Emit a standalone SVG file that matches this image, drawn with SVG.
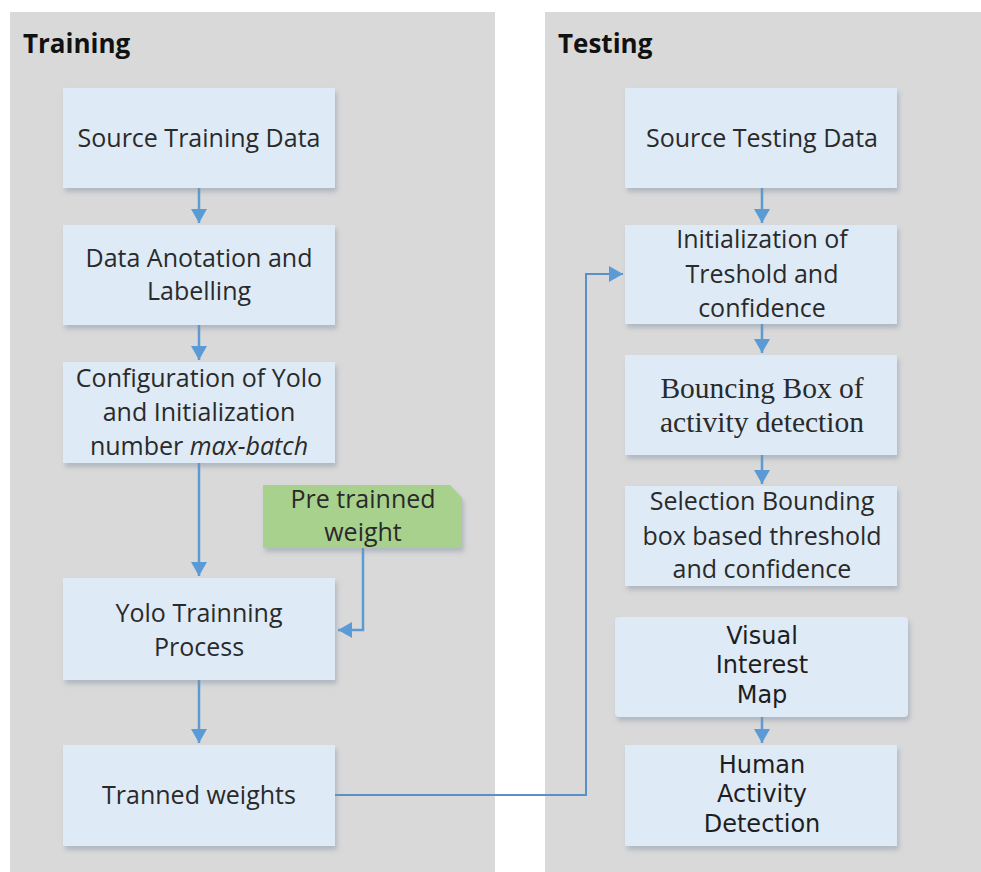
<svg xmlns="http://www.w3.org/2000/svg" width="981" height="872" viewBox="0 0 981 872">
<defs>
<style>
.panel{fill:#d9d9d9}
.box{fill:#deeaf6;filter:url(#sh)}
.t{font-family:"Open Sans","Liberation Sans",sans-serif;font-size:25px;fill:#2a2a2a;text-anchor:middle}
.h{font-family:"Open Sans","Liberation Sans",sans-serif;font-size:26px;font-weight:bold;fill:#111}
.s{font-family:"Liberation Serif","DejaVu Serif",serif;font-size:29.5px;fill:#2a2a2a;text-anchor:middle}
.v{font-family:"DejaVu Sans","Liberation Sans",sans-serif;font-size:24px;fill:#1e1e1e;text-anchor:middle}
.c{fill:none;stroke:#5b9bd5;stroke-width:2.5}
.c2{fill:none;stroke:#5b8fc7;stroke-width:2}
</style>
<filter id="sh" x="-10%" y="-10%" width="125%" height="130%">
<feDropShadow dx="2" dy="4" stdDeviation="2.5" flood-color="#7f8ea0" flood-opacity="0.45"/>
</filter>
<marker id="ah" markerWidth="16" markerHeight="16" refX="14" refY="8" orient="auto" markerUnits="userSpaceOnUse">
<path d="M0,0 L14,8 L0,16 Z" fill="#5b9bd5"/>
</marker>
</defs>
<rect width="981" height="872" fill="#ffffff"/>
<g id="panel-training">
<rect class="panel" x="10" y="12" width="485" height="860"/>
<text class="h" x="23" y="53">Training</text>
</g>
<g id="panel-testing">
<rect class="panel" x="545" y="12" width="436" height="860"/>
<text class="h" x="558" y="53">Testing</text>
</g>
<g id="connectors">
<path class="c" d="M199,188 V223" marker-end="url(#ah)"/>
<path class="c" d="M199,325 V360" marker-end="url(#ah)"/>
<path class="c" d="M199,463 V576" marker-end="url(#ah)"/>
<path class="c" d="M199,680 V743" marker-end="url(#ah)"/>
<path class="c" d="M363,548 V630 H338" marker-end="url(#ah)"/>
<path class="c2" d="M335,795 H586 V274 H623" marker-end="url(#ah)"/>
<path class="c" d="M762,188 V223" marker-end="url(#ah)"/>
<path class="c" d="M762,324 V353" marker-end="url(#ah)"/>
<path class="c" d="M762,455 V484" marker-end="url(#ah)"/>
<path class="c" d="M762,717 V743" marker-end="url(#ah)"/>
</g>
<g id="source-training">
<rect class="box" x="63" y="88" width="272" height="100"/>
<text class="t" x="199" y="147">Source Training Data</text>
</g>
<g id="annotation">
<rect class="box" x="63" y="225" width="272" height="100"/>
<text class="t" x="199" y="267">Data Anotation and</text>
<text class="t" x="199" y="300">Labelling</text>
</g>
<g id="configuration">
<rect class="box" x="63" y="362" width="272" height="101"/>
<text class="t" x="199" y="387">Configuration of Yolo</text>
<text class="t" x="199" y="421">and Initialization</text>
<text class="t" x="199" y="455">number <tspan font-style="italic">max-batch</tspan></text>
</g>
<g id="pretrained">
<path d="M263,485 H450 L462,498 V548 H263 Z" fill="#a9d18e" filter="url(#sh)"/>
<text class="t" x="363" y="508" fill="#1a2a10">Pre trainned</text>
<text class="t" x="363" y="541" fill="#1a2a10">weight</text>
</g>
<g id="yolo-training">
<rect class="box" x="63" y="578" width="272" height="102"/>
<text class="t" x="199" y="622">Yolo Trainning</text>
<text class="t" x="199" y="656">Process</text>
</g>
<g id="trained-weights">
<rect class="box" x="63" y="745" width="272" height="101"/>
<text class="t" x="199" y="804">Tranned weights</text>
</g>
<g id="source-testing">
<rect class="box" x="625" y="88" width="272" height="100"/>
<text class="t" x="762" y="147">Source Testing Data</text>
</g>
<g id="init-threshold">
<rect class="box" x="625" y="225" width="272" height="99"/>
<text class="t" x="762" y="248">Initialization of</text>
<text class="t" x="762" y="283">Treshold and</text>
<text class="t" x="762" y="317">confidence</text>
</g>
<g id="bouncing-box">
<rect class="box" x="625" y="355" width="272" height="100"/>
<text class="s" x="762" y="398">Bouncing Box of</text>
<text class="s" x="762" y="432">activity detection</text>
</g>
<g id="selection">
<rect class="box" x="625" y="486" width="272" height="100"/>
<text class="t" x="762" y="510">Selection Bounding</text>
<text class="t" x="762" y="545">box based threshold</text>
<text class="t" x="762" y="578">and confidence</text>
</g>
<g id="visual-interest">
<rect class="box" x="615" y="617" width="293" height="100" rx="4"/>
<text class="v" x="762" y="644">Visual</text>
<text class="v" x="762" y="673">Interest</text>
<text class="v" x="762" y="703">Map</text>
</g>
<g id="human-activity">
<rect class="box" x="625" y="745" width="272" height="101"/>
<text class="v" x="762" y="773">Human</text>
<text class="v" x="762" y="802">Activity</text>
<text class="v" x="762" y="832">Detection</text>
</g>
</svg>
